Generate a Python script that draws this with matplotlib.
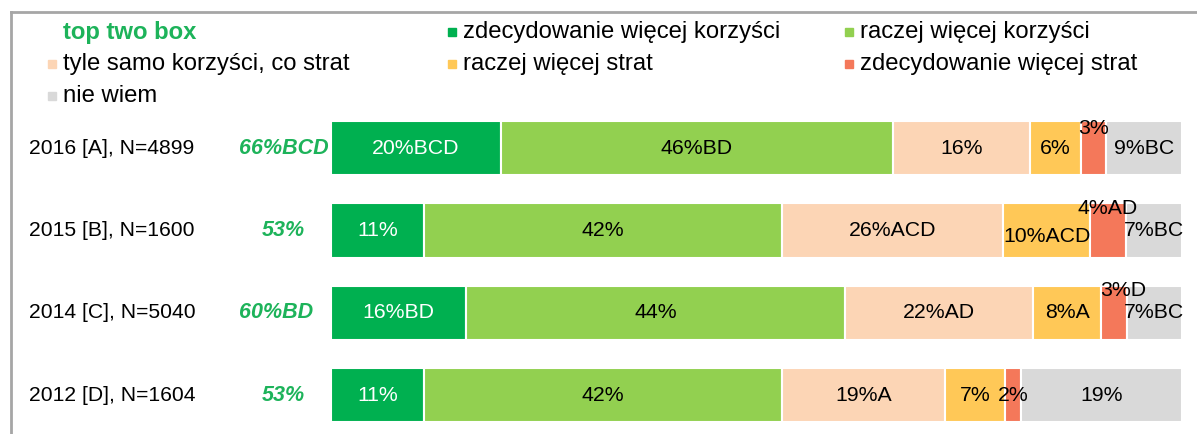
import numpy as np
import matplotlib.pyplot as plt
from matplotlib.patches import Rectangle
from matplotlib.lines import Line2D

plt.rcParams['font.family'] = ['Liberation Sans', 'DejaVu Sans']

rows = ["2016 [A], N=4899", "2015 [B], N=1600", "2014 [C], N=5040", "2012 [D], N=1604"]
top_two = ["66%BCD", "53%", "60%BD", "53%"]
categories = ["zdecydowanie więcej korzyści", "raczej więcej korzyści",
              "tyle samo korzyści, co strat", "raczej więcej strat",
              "zdecydowanie więcej strat", "nie wiem"]
colors = ["#00B050", "#92D050", "#FCD5B5", "#FFC857", "#F4785A", "#D9D9D9"]

# segment widths (labels are the printed rounded values)
values = np.array([
    [20.0, 46.0, 16.1, 6.0, 3.0, 8.9],
    [10.9, 42.1, 26.0, 10.2, 4.2, 6.6],
    [15.9, 44.5, 22.1, 8.0, 3.0, 6.5],
    [10.9, 42.1, 19.1, 7.1, 1.9, 18.9],
])
labels = [
    ["20%BCD", "46%BD", "16%", "6%", "3%", "9%BC"],
    ["11%", "42%", "26%ACD", "10%ACD", "4%AD", "7%BC"],
    ["16%BD", "44%", "22%AD", "8%A", "3%D", "7%BC"],
    ["11%", "42%", "19%A", "7%", "2%", "19%"],
]

# label nudges (points) for the narrow segments
nudge = {(0, 4): (0, 14), (1, 4): (0, 16), (1, 3): (0, -4), (2, 4): (7, 16)}
top_x = [284, 283, 276, 283]

W, H = 1197, 434
fig = plt.figure(figsize=(W / 100, H / 100), dpi=100)
ax = fig.add_axes([331 / W, 0, 851 / W, (434 - 107) / H])

y = np.arange(len(rows))
left = np.zeros(len(rows))
for j in range(len(categories)):
    ax.barh(y, values[:, j], left=left, height=0.66, color=colors[j],
            edgecolor="white", linewidth=1.5)
    for i in range(len(rows)):
        dx, dy = nudge.get((i, j), (0, 0))
        ax.annotate(labels[i][j], (left[i] + values[i, j] / 2, y[i]),
                    xytext=(dx, dy), textcoords="offset points",
                    ha="center", va="center", fontsize=15.3,
                    color="white" if j == 0 else "black")
    left += values[:, j]

ax.set_xlim(0, 100)
ax.set_ylim(3.473, -0.5)
ax.axis("off")

# row labels and top two box
for i in range(len(rows)):
    yy = ax.transData.transform((0, y[i]))[1] / H
    fig.text(29 / W, yy, rows[i], ha="left", va="center", fontsize=15.2)
    fig.text(top_x[i] / W, yy, top_two[i], ha="center", va="center", fontsize=15.5,
             color="#1DB35A", fontweight="bold", fontstyle="italic")

# legend
fig.text(63 / W, 1 - 32 / H, "top two box", ha="left", va="center",
         fontsize=17.2, color="#1DB35A", fontweight="bold")
leg_pos = [(448, 32), (845, 32), (48, 64), (448, 64), (845, 64), (48, 96)]
for (lx, ly), cat, c in zip(leg_pos, categories, colors):
    fig.add_artist(Rectangle(((lx) / W, 1 - (ly + 4) / H), 8 / W, 8 / H,
                             transform=fig.transFigure, color=c))
    fig.text((lx + 15) / W, 1 - ly / H, cat, ha="left", va="center", fontsize=17.2)

# frame
fig.add_artist(Line2D([11 / W, 1], [1 - 12 / H, 1 - 12 / H], color="#A6A6A6", lw=2))
fig.add_artist(Line2D([11 / W, 11 / W], [0, 1 - 12 / H], color="#A6A6A6", lw=2))

fig.savefig("out.png", dpi=100)
